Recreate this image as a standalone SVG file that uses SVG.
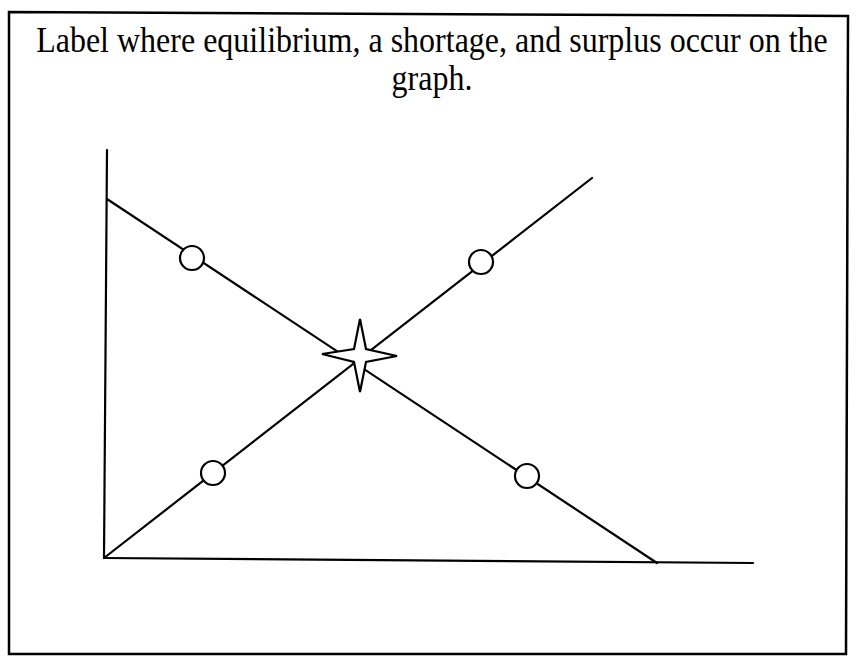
<svg xmlns="http://www.w3.org/2000/svg" width="857" height="656" viewBox="0 0 857 656">
<style>
.ln{stroke:#000;stroke-width:2.2;fill:none;stroke-linecap:round}
.pt{stroke:#000;stroke-width:2.2;fill:#fff}
.t{font-family:"Liberation Serif","Times New Roman",serif;font-size:32px;fill:#000;text-anchor:middle}
</style>
<rect width="857" height="656" fill="#fff"/>
<polygon points="9,12 848,16 846,654 9,654" fill="none" stroke="#000" stroke-width="2.5"/>
<g id="title" transform="translate(0,52) scale(1,1.12)">
<text class="t" x="432" y="0">Label where equilibrium, a shortage, and surplus occur on the</text>
<text class="t" x="432" y="34">graph.</text>
</g>
<g id="axes">
<line class="ln" x1="107" y1="150" x2="104" y2="558"/>
<line class="ln" x1="104" y1="558" x2="753" y2="563"/>
</g>
<g id="connectors">
<line id="demand" class="ln" x1="107" y1="199" x2="657" y2="563"/>
<line id="supply" class="ln" x1="104" y1="558" x2="592" y2="178"/>
</g>
<g id="p1"><circle class="pt" cx="192" cy="258" r="12"/></g>
<g id="p2"><circle class="pt" cx="481" cy="262" r="12"/></g>
<g id="p3"><circle class="pt" cx="213" cy="473" r="12"/></g>
<g id="p4"><circle class="pt" cx="527" cy="476" r="12"/></g>
<g id="star"><path class="pt" d="M360,319 L366,349 L397,356 L366,362 L360,392 L354,362 L322,354 L354,349 Z"/></g>
</svg>
